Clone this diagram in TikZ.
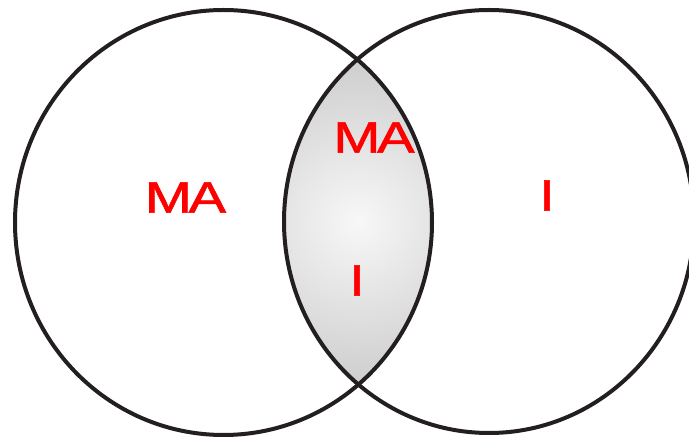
\documentclass[tikz,border=0pt]{standalone}
\usepackage{fontspec}
\setmainfont{Liberation Sans}
\newfontfamily\tagfont{Liberation Sans}[FakeBold=1.2]
\usepackage{xcolor}
\usepackage{tikz}

\definecolor{ringline}{HTML}{231F20}
\definecolor{labelred}{HTML}{FF0000}
\colorlet{lenscore}{white!97!black}
\colorlet{lensmid}{black!18}
\colorlet{lensedge}{black!37}
\pgfdeclareradialshading{lensglow}{\pgfpoint{0bp}{0bp}}{color(0bp)=(lenscore); color(22bp)=(lensmid); color(50bp)=(lensedge)}

\begin{document}
\begin{tikzpicture}[
  x=1pt, y=1pt,
  ring/.style={draw=ringline, line width=4pt},
  tag/.style={text=labelred, font=\tagfont\fontsize{44}{44}\selectfont, inner sep=0pt, xscale=1.28}
]
  \useasboundingbox (0,0) rectangle (689,439);

  % shaded overlap of the two sets
  \begin{scope}
    \clip (223.5,216.5) ellipse [x radius=208.5, y radius=212.5];
    \clip (489,217.5) ellipse [x radius=205, y radius=211.5];
    \shade[shading=lensglow] (188,47.5) rectangle (528,387.5);
  \end{scope}

  \draw[ring] (223.5,216.5) ellipse [x radius=208.5, y radius=212.5];
  \draw[ring] (489,217.5) ellipse [x radius=205, y radius=211.5];

  \node[tag] (maleft) at (185.5,241.5) {M\kern-0.06em A};
  \node[tag] (malens) at (374,301.5) {M\kern-0.06em A};
  \node[tag] (iright) at (547,243.5) {I};
  \node[tag] (ilens) at (357,158.5) {I};
\end{tikzpicture}
\end{document}
